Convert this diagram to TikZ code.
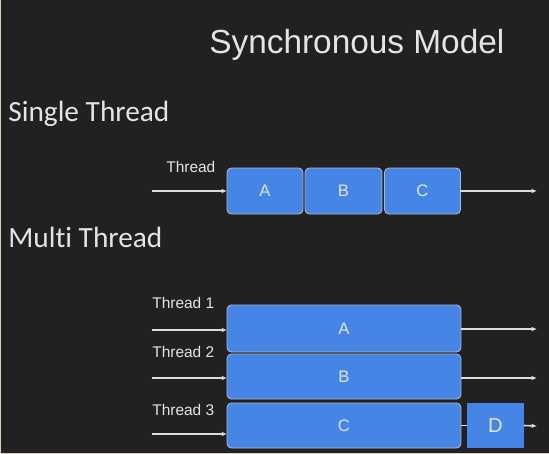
\documentclass[tikz,border=0pt]{standalone}
\usepackage{fontspec}
\setmainfont{Liberation Sans}
\newfontfamily\slidefont[Ligatures=NoCommon]{Carlito}
\usetikzlibrary{arrows.meta}
\usetikzlibrary{positioning}

\definecolor{slidebg}{HTML}{212121}
\definecolor{slideedge}{HTML}{D6CFB6}
\definecolor{taskblue}{HTML}{4585E6}
\definecolor{taskrim}{HTML}{AEB8CC}
\definecolor{wire}{HTML}{DCDCDC}
\definecolor{chalk}{HTML}{E4E4E4}

\tikzset{
  task/.style={draw=taskrim, line width=0.5pt, fill=taskblue, rounded corners=2.5pt,
    inner sep=0pt, outer sep=0pt, text=chalk, font=\fontsize{9.5}{11}\selectfont},
  tasksq/.style={task, rounded corners=0pt, draw=none, font=\fontsize{11.5}{13}\selectfont},
  flow/.style={draw=wire, line width=0.9pt, -{Latex[length=3pt,width=2.6pt]}},
  lane/.style={text=chalk, inner sep=0pt, anchor=base west, font=\fontsize{8.8}{10}\selectfont},
  heading/.style={text=chalk, inner sep=0pt, anchor=base west, font=\slidefont\fontsize{16.7}{19}\selectfont}
}

\begin{document}
\begin{tikzpicture}[x=0.02cm, y=-0.02cm]
            \useasboundingbox (0,0) rectangle (549,454);
            \fill[slideedge] (0,0) rectangle (549,454);
            \fill[slidebg] (1.5,0) rectangle (549,452.5);
            \node[text=chalk, inner sep=0pt, anchor=base west, font=\fontsize{19}{22}\selectfont]
              (title) at (209,53) {Synchronous Model};
            \node[heading] (single) at (8,121) {Single Thread};
            \node[heading] (multi) at (8,247) {Multi Thread};

            % single thread
            \node[task, minimum width=1.52cm, minimum height=0.92cm] (sA) at (265,191) {A};
            \node[task, minimum width=1.54cm, minimum height=0.92cm] (sB) at (343.5,191) {B};
            \node[task, minimum width=1.52cm, minimum height=0.92cm] (sC) at (422.5,191) {C};
            \node[lane] (sT) at (166,172) {Thread};
            \coordinate (sIn) at (152,191);
            \coordinate (sOut) at (537,191);
            \draw[flow] (sIn) -- (sA.west);
            \draw[flow] (sC.east) -- (sOut);

            % multi thread
            \node[task, minimum width=4.68cm, minimum height=0.94cm] (mA) at (344,328.5) {A};
            \node[task, minimum width=4.68cm, minimum height=0.90cm] (mB) at (344,376.5) {B};
            \node[task, minimum width=4.68cm, minimum height=0.90cm] (mC) at (344,425.5) {C};
            \node[tasksq, minimum width=1.14cm, minimum height=0.90cm] (mD) at (495.5,425.5) {D};
            \node[lane] (mT1) at (152,308) {Thread 1};
            \node[lane] (mT2) at (152,357) {Thread 2};
            \node[lane] (mT3) at (152,415) {Thread 3};
            \coordinate (inA) at (152,330);
            \coordinate (inB) at (152,378);
            \coordinate (inC) at (152,434);
            \coordinate (outA) at (537,329);
            \coordinate (outB) at (537,378);
            \coordinate (outD) at (537,426);
            \draw[flow] (inA) -- (inA -| mA.west);
            \draw[flow] (inB) -- (inB -| mB.west);
            \draw[flow] (inC) -- (inC -| mC.west);
            \draw[flow] (outA -| mA.east) -- (outA);
            \draw[flow] (outB -| mB.east) -- (outB);
            \draw[draw=wire, line width=0.9pt] (mC.east) -- (mD.west);
            \draw[flow] (mD.east) -- (outD);
        \end{tikzpicture}
\end{document}
